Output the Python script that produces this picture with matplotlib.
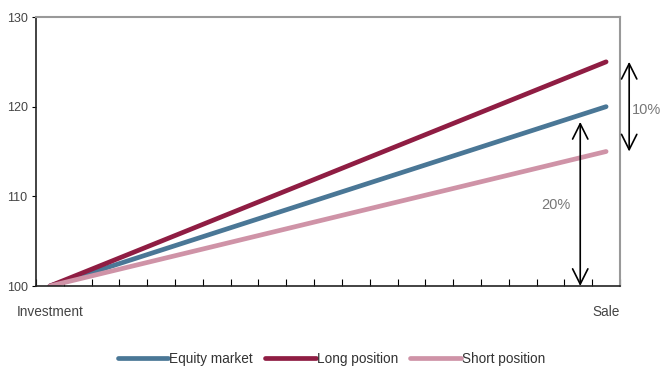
import matplotlib
matplotlib.use("Agg")
import matplotlib.pyplot as plt
import numpy as np

plt.rcParams['font.family'] = ['Liberation Sans', 'DejaVu Sans']

# Periods from investment to sale
periods = ["Investment"] + [""] * 19 + ["Sale"]
start_value = 100
equity_end = 120
long_end = 125
short_end = 115

series_names = ["Equity market", "Long position", "Short position"]
series_colors = ["#4a7796", "#8f1d43", "#cf93a7"]
series_ends = [equity_end, long_end, short_end]

y_ticks = [100, 110, 120, 130]
arrow_10 = (115, 125)
arrow_20 = (100, 118.3)

fig = plt.figure(figsize=(6.63, 3.69), dpi=100)
ax = fig.add_axes([36 / 663, 1 - 286 / 369, 584 / 663, 269 / 369])

n = len(periods)
x = np.arange(n)
for name, color, end in zip(series_names, series_colors, series_ends):
    vals = np.linspace(start_value, end, n)
    ax.plot(x, vals, color=color, lw=3.4, solid_capstyle='round', label=name)

ax.set_xlim(-0.5, n - 0.5)
ax.set_ylim(100, 130)
ax.set_yticks(y_ticks)
ax.tick_params(axis='y', length=3, width=0.8, labelsize=9, labelcolor='#444444', pad=3)

# Boundary ticks without labels; labels centred on the periods
ax.set_xticks(np.arange(-0.5, n, 1))
ax.set_xticklabels([])
ax.tick_params(axis='x', which='major', length=5, width=0.8, direction='in')
ax.set_xticks(x, minor=True)
ax.set_xticklabels(periods, minor=True)
ax.tick_params(axis='x', which='minor', length=0, labelsize=9.8, labelcolor='#444444', pad=14)

for side in ['left', 'bottom']:
    ax.spines[side].set_color('#222222')
    ax.spines[side].set_linewidth(1.2)
for side in ['top', 'right']:
    ax.spines[side].set_color('#999999')
    ax.spines[side].set_linewidth(1.5)

arrow_kw = dict(arrowstyle='<->,head_length=1.1,head_width=0.55', color='black', lw=1.2,
                shrinkA=0, shrinkB=0)
ax.annotate('', xy=(20.83, arrow_10[0]), xytext=(20.83, arrow_10[1]),
            arrowprops=arrow_kw, annotation_clip=False)
ax.annotate('', xy=(19.07, arrow_20[0]), xytext=(19.07, arrow_20[1]),
            arrowprops=arrow_kw)
ax.text(21.45, 119.6, "10%", fontsize=10.5, color='#777777', ha='center', va='center')
ax.text(18.2, 109.0, "20%", fontsize=10.5, color='#777777', ha='center', va='center')

fig.legend(loc='center', bbox_to_anchor=(0.5, 1 - 359 / 369), ncol=3, frameon=False,
           fontsize=9.8, handlelength=3.7, handletextpad=0.1, columnspacing=0.9,
           labelcolor='#333333')

fig.savefig("out.png", dpi=100)
